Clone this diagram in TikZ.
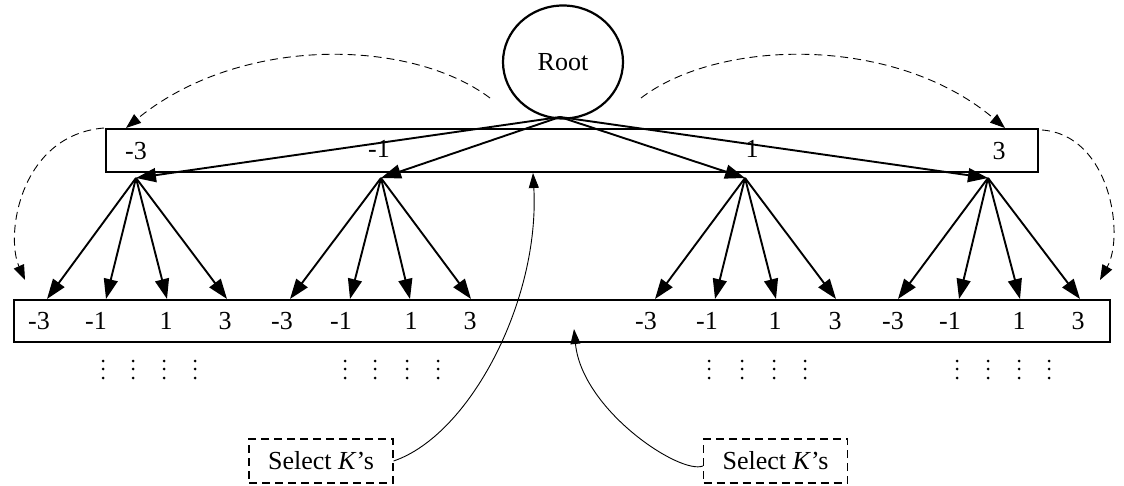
\documentclass[tikz,border=0pt]{standalone}
\usepackage{fontspec}
\setmainfont{Liberation Serif}
\usetikzlibrary{arrows.meta,shapes.geometric}
\begin{document}
\begin{tikzpicture}[x=1pt,y=-1pt,
  every node/.style={font=\fontsize{26}{30}\selectfont},
  lbl/.style={inner sep=0pt},
  bar/.style={draw,line width=1.4pt,inner sep=0pt},
  fan/.style={line width=1.9pt,-{Triangle[length=20pt,width=14pt]}},
  hop/.style={dashed,dash pattern=on 8pt off 5pt,line width=0.9pt,-{Triangle[length=15pt,width=11pt]}},
  pick/.style={line width=0.9pt,-{Triangle[length=15pt,width=10pt]}},
  selbox/.style={draw,dashed,dash pattern=on 8pt off 5pt,line width=1.2pt,minimum width=144pt,minimum height=44pt,inner sep=0pt},
  dotc/.style={fill=black,draw=none,circle,inner sep=0pt,minimum size=3pt}]
\useasboundingbox (0,0) rectangle (1124,486);
% root
\node[draw,ellipse,line width=2.2pt,minimum width=120pt,minimum height=113pt,inner sep=0pt] (root) at (563,62) {Root};
% boxes
\node[bar,minimum width=932pt,minimum height=43pt] (top) at (572,150.5) {};
\node[bar,minimum width=1096pt,minimum height=42pt] (bot) at (562,321) {};
% top labels
\node[lbl] (tm3) at (136,151) {-3};
\node[lbl] (tm1) at (379,149) {-1};
\node[lbl] (tp1) at (752,149) {1};
\node[lbl] (tp3) at (999,151) {3};
% apexes
\coordinate (r0) at (560,117);
\coordinate (a1) at (136,178);
\coordinate (a2) at (381,178);
\coordinate (a3) at (745,178);
\coordinate (a4) at (988,178);
\foreach \a in {a1,a2,a3,a4} \draw[fan] (r0) -- (\a);
% bottom labels and tips
\foreach \g/\xa/\xb/\xc/\xd/\ta/\tb/\tc/\td in {
  1/39/96/166/225/47/106/167/227,
  2/282/341/411/470/290/350/410/471,
  3/646/707/775/835/655/715/776/836,
  4/893/950/1019/1078/898/959/1020/1080}{
  \node[lbl] (b\g m3) at (\xa,321) {-3};
  \node[lbl] (b\g m1) at (\xb,321) {-1};
  \node[lbl] (b\g p1) at (\xc,321) {1};
  \node[lbl] (b\g p3) at (\xd,321) {3};
  \coordinate (t\g a) at (\ta,299);
  \coordinate (t\g b) at (\tb,299);
  \coordinate (t\g c) at (\tc,299);
  \coordinate (t\g d) at (\td,299);
  \foreach \k in {a,b,c,d} \draw[fan] (a\g) -- (t\g\k);
}
% dots
\foreach \x in {103,133,164,195,345,375,407,438,709,742,774,805,957,988,1019,1049}{
  \foreach \y in {361,369,378} \node[dotc] at (\x,\y) {};
}
% dashed hops
\coordinate (h1s) at (490,98);
\coordinate (h1e) at (126,128);
\draw[hop] (h1s) .. controls (410,38) and (240,35) .. (h1e);
\coordinate (h2s) at (641,98);
\coordinate (h2e) at (1005,128);
\draw[hop] (h2s) .. controls (720,38) and (895,35) .. (h2e);
\coordinate (h3s) at (104,128);
\coordinate (h3e) at (25,280);
\draw[hop] (h3s) .. controls (20,135) and (5,235) .. (h3e);
\coordinate (h4s) at (1042,130);
\coordinate (h4e) at (1100,280);
\draw[hop] (h4s) .. controls (1110,135) and (1125,235) .. (h4e);
% select boxes
\node[selbox] (sel1) at (321,461) {Select \textit{K}’s};
\node[selbox] (sel2) at (775.5,461) {Select \textit{K}’s};
\coordinate (p1) at (533,173);
\coordinate (p2) at (574,329);
\draw[pick] (sel1.east) .. controls (470,435) and (540,300) .. (p1);
\draw[pick] ([yshift=-5pt]sel2.west) .. controls (680,475) and (582,410) .. (p2);
\end{tikzpicture}
\end{document}
